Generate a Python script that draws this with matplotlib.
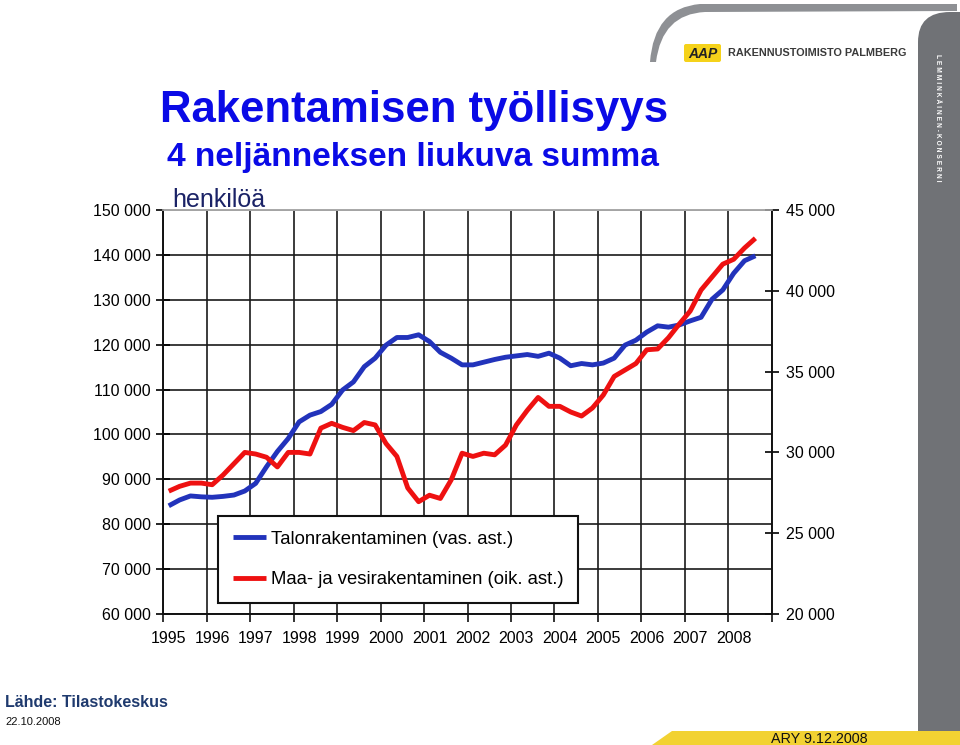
import matplotlib
matplotlib.use('Agg')
from matplotlib import pyplot as plt
from matplotlib.path import Path
from matplotlib.patches import PathPatch, Polygon, FancyBboxPatch
from matplotlib.ticker import FuncFormatter, MultipleLocator

plt.rcParams['font.family'] = ['Liberation Sans', 'DejaVu Sans']

## data: 4-quarter moving sum, persons, 1995Q1 .. 2008Q3
years = [str(y) for y in range(1995, 2009)]
talonrakentaminen = [84100, 85400, 86300, 86100, 86000, 86200, 86500, 87400,
                     89100, 92800, 96200, 99100, 102800, 104300, 105100, 106700,
                     109900, 111700, 115100, 117000, 119900, 121600, 121600, 122200,
                     120700, 118300, 117000, 115500, 115500, 116100, 116700, 117200,
                     117500, 117800, 117400, 118100, 117000, 115300, 115800, 115500,
                     115900, 117000, 119900, 121000, 122800, 124200, 123900, 124400,
                     125300, 126100, 130100, 132200, 135900, 138700, 139800]
maa_vesi = [27600, 27900, 28100, 28100, 28000, 28600, 29300, 30000,
            29900, 29700, 29100, 30000, 30000, 29900, 31500, 31800,
            31550, 31350, 31850, 31700, 30550, 29750, 27800, 26950,
            27350, 27150, 28300, 29950, 29750, 29950, 29850, 30450,
            31700, 32600, 33400, 32850, 32850, 32500, 32250, 32750,
            33550, 34700, 35100, 35500, 36350, 36400, 37100, 37950,
            38750, 40050, 40850, 41650, 41950, 42650, 43250]
labels = ['Talonrakentaminen (vas. ast.)', 'Maa- ja vesirakentaminen (oik. ast.)']

fig = plt.figure(figsize=(9.6, 7.45), dpi=100)

## slide decorations (pixel coords)
bg = fig.add_axes([0, 0, 1, 1], zorder=-5)
bg.set_xlim(0, 960)
bg.set_ylim(745, 0)
bg.axis('off')
# grey swoosh at the top
swoosh = Path([(650, 62), (654, 8), (700, 4), (957, 4), (957, 11), (705, 12), (662, 14), (656, 62), (650, 62)],
              [Path.MOVETO, Path.CURVE3, Path.CURVE3, Path.LINETO, Path.LINETO, Path.LINETO,
               Path.CURVE3, Path.CURVE3, Path.CLOSEPOLY])
bg.add_patch(PathPatch(swoosh, fc='#8e9094', ec='none'))
# grey band on the right
band = Path([(918, 745), (918, 42), (918, 12), (950, 12), (960, 12), (960, 745), (918, 745)],
            [Path.MOVETO, Path.LINETO, Path.CURVE3, Path.CURVE3, Path.LINETO, Path.LINETO, Path.CLOSEPOLY])
bg.add_patch(PathPatch(band, fc='#707276', ec='none'))
bg.text(938, 118, 'L E M M I N K Ä I N E N - K O N S E R N I', rotation=-90, color='white', fontsize=4.8,
        fontweight='bold', ha='center', va='center')
# yellow band at the bottom
bg.add_patch(Polygon([(672, 731), (960, 731), (960, 745), (652, 745)], closed=True, fc='#f2d232', ec='none'))
bg.text(819, 739, 'ARY 9.12.2008', fontsize=10.4, ha='center', va='center', color='#111111')
# logo
bg.add_patch(FancyBboxPatch((684, 44), 37, 18, boxstyle='round,pad=0,rounding_size=2', fc='#f5d21a', ec='none'))
bg.text(702.5, 53.5, 'AAP', fontsize=10, fontweight='bold', fontstyle='italic', ha='center', va='center', color='#222222')
bg.text(728, 53.5, 'RAKENNUSTOIMISTO PALMBERG', fontsize=7.8, fontweight='bold', ha='left', va='center', color='#3a3a3a')
# titles
bg.text(160, 122, 'Rakentamisen työllisyys', fontsize=31.5, fontweight='bold', color='#0a0ae6', va='baseline')
bg.text(167, 166, '4 neljänneksen liukuva summa', fontsize=24.1, fontweight='bold', color='#0a0ae6', va='baseline')
bg.text(172, 207, 'henkilöä', fontsize=18, color='#1a2266', va='baseline')
bg.text(5, 707, 'Lähde: Tilastokeskus', fontsize=11.5, fontweight='bold', color='#1f3a6e', va='baseline')
bg.text(5, 722, '22.10.2008', fontsize=8, color='#111111', va='center')

## chart
ax = fig.add_axes([163.3 / 960, 1 - 614 / 745, (771.7 - 163.3) / 960, 404 / 745])
ax2 = ax.twinx()
x = list(range(len(talonrakentaminen)))
l1, = ax.plot(x, talonrakentaminen, color='#2233bb', lw=3.5, solid_capstyle='butt', zorder=3)
l2, = ax2.plot(x, maa_vesi, color='#ee1111', lw=3.5, solid_capstyle='butt', zorder=3)

n_cat = 4 * len(years)
ax.set_xlim(-0.5, n_cat - 0.5)
ax.set_ylim(60000, 150000)
ax2.set_ylim(20000, 45000)
ax.yaxis.set_major_locator(MultipleLocator(10000))
ax2.yaxis.set_major_locator(MultipleLocator(5000))
fmt = FuncFormatter(lambda v, p: '{:,}'.format(int(v)).replace(',', ' '))
ax.yaxis.set_major_formatter(fmt)
ax2.yaxis.set_major_formatter(fmt)

ax.set_xticks([-0.5 + 4 * k for k in range(len(years) + 1)])
ax.set_xticklabels([])
ax.set_xticks([4 * k for k in range(len(years))], minor=True)
ax.set_xticklabels(years, minor=True)
ax.tick_params(axis='x', which='major', direction='out', length=6, width=1.2, color='#111111')
ax.tick_params(axis='x', which='minor', length=0, pad=12, labelsize=11.5)
ax.tick_params(axis='y', direction='inout', length=10, width=1.2, pad=4, labelsize=11.5)
ax2.tick_params(axis='y', direction='inout', length=10, width=1.2, pad=5, labelsize=11.5)

ax.grid(True, which='major', color='#1a1a1a', lw=1.2)
ax.yaxis.get_gridlines()[-1].set_color('#a8a8a8')
ax.set_axisbelow(True)
for a in (ax, ax2):
    for s in ('left', 'right', 'bottom'):
        a.spines[s].set_linewidth(1.2)
        a.spines[s].set_color('#111111')
    a.spines['top'].set_color('#a8a8a8')
    a.spines['top'].set_linewidth(1.2)

leg = ax2.legend([l1, l2], labels, loc='lower left', bbox_to_anchor=(0.09, 0.027),
                 fontsize=13.3, frameon=True, fancybox=False, framealpha=1, edgecolor='#111111',
                 handlelength=1.8, handletextpad=0.25, borderpad=0.8, labelspacing=1.28,
                 borderaxespad=0)
leg.get_frame().set_linewidth(1.5)
leg.set_zorder(10)

fig.savefig('out.png', dpi=100)
